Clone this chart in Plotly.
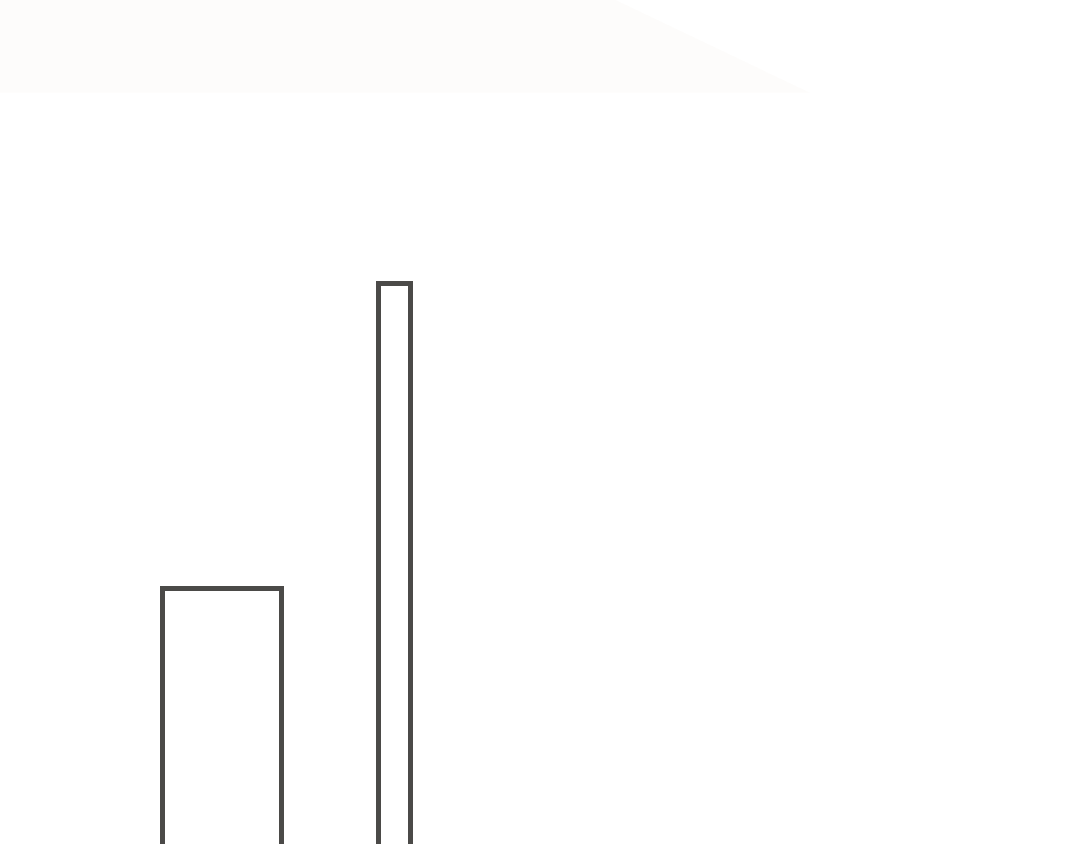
import plotly.graph_objects as go

# --- data ---
categories = ["A", "B"]
x_centers = [2.06, 3.66]
bar_widths = [1.11, 0.30]
values = [40, 70]

outline = "#4b4a48"

fig = go.Figure()
fig.add_trace(
    go.Bar(
        x=x_centers,
        y=values,
        width=bar_widths,
        text=categories,
        textposition="none",
        marker=dict(color="rgba(255,255,255,0)", line=dict(color=outline, width=5)),
        hoverinfo="skip",
        showlegend=False,
    )
)

# faint wash along the top edge
fig.add_shape(
    type="path",
    xref="paper",
    yref="paper",
    path="M 0 1 L 0.57 1 L 0.75 0.89 L 0 0.89 Z",
    fillcolor="rgba(240,236,228,0.15)",
    line=dict(width=0),
    layer="below",
)

fig.update_layout(
    width=1080,
    height=844,
    margin=dict(l=0, r=0, t=0, b=0),
    paper_bgcolor="white",
    plot_bgcolor="white",
    xaxis=dict(range=[0, 10], visible=False),
    yaxis=dict(range=[14.9, 97.9], visible=False),
    bargap=0,
)

# drop the default page margin so the figure sits flush with the window
fig.write_html(
    "out.html",
    config={"displayModeBar": False},
    post_script="document.body.style.margin='0';document.body.style.overflow='hidden';",
)
